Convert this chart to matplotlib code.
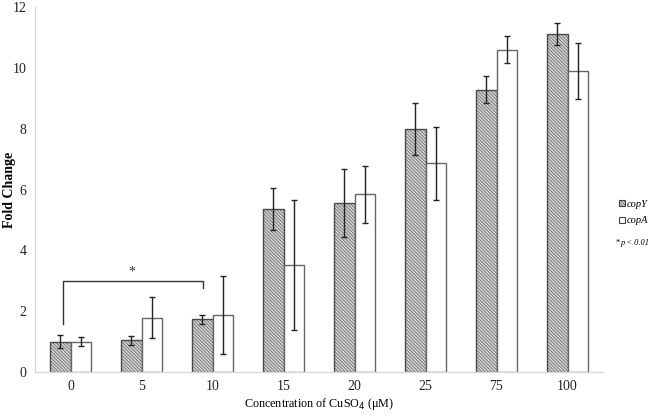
import matplotlib
matplotlib.use("Agg")
import matplotlib.pyplot as plt
import matplotlib.patches as mpatches
import numpy as np

plt.rcParams['font.family'] = ['Liberation Serif', 'DejaVu Serif']
plt.rcParams['hatch.linewidth'] = 0.4

categories = ["0", "5", "10", "15", "20", "25", "75", "100"]
copY = [1.0, 1.05, 1.73, 5.37, 5.55, 7.98, 9.28, 11.12]
copY_err = [0.22, 0.15, 0.14, 0.69, 1.12, 0.85, 0.45, 0.37]
copA = [1.0, 1.79, 1.86, 3.52, 5.84, 6.87, 10.6, 9.88]
copA_err = [0.16, 0.67, 1.28, 2.13, 0.94, 1.2, 0.45, 0.92]
series_names = ["copY", "copA"]
yticks = [0, 2, 4, 6, 8, 10, 12]

fig = plt.figure(figsize=(6.5, 4.19), dpi=100)
ax = fig.add_axes([35/650, 47/419, 568/650, 365/419])

x = np.arange(len(categories))
w = 0.295
hatch = '\\' * 10
ax.bar(x - w/2, copY, width=w, facecolor='#d0d0d0', edgecolor='#4a4a4a',
       hatch=hatch, linewidth=1.0, zorder=2)
ax.bar(x + w/2, copA, width=w, facecolor='white', edgecolor='#666666',
       linewidth=1.0, zorder=2)
ax.errorbar(x - w/2, copY, yerr=copY_err, fmt='none', ecolor='#222222',
            elinewidth=1.0, capsize=2.5, capthick=1.0, zorder=3)
ax.errorbar(x + w/2, copA, yerr=copA_err, fmt='none', ecolor='#222222',
            elinewidth=1.0, capsize=2.5, capthick=1.0, zorder=3)

# significance bracket
ax.plot([-0.11, -0.11, 1.86, 1.86], [1.58, 3.0, 3.0, 2.77], color='#333333', lw=1.0, zorder=3)
ax.text(0.86, 3.3, '*', ha='center', va='center', fontsize=10, color='#333333')

ax.set_xlim(-0.5, 7.5)
ax.set_ylim(0, 12)
ax.set_xticks(x)
ax.set_xticklabels(categories)
ax.set_yticks(yticks)
ax.tick_params(length=0, labelsize=10, colors='#222222')
ax.tick_params(axis='x', pad=6)
ax.tick_params(axis='y', pad=6)
for s in ['top', 'right']:
    ax.spines[s].set_visible(False)
for s in ['left', 'bottom']:
    ax.spines[s].set_color('#d9d9d9')
    ax.spines[s].set_linewidth(1.0)

ax.set_ylabel('Fold Change', fontweight='bold', fontsize=10)
ax.yaxis.set_label_coords((10 - 35) / 568, 0.5)
ax.yaxis.label.set_va('center')
ax.set_xlabel('Concentration of CuSO$_4$ (\u03bcM)', fontsize=8.7)
ax.xaxis.set_label_coords(0.5, -(404 - 372) / 365)
ax.xaxis.label.set_va('center')

handles = [mpatches.Patch(facecolor='#d0d0d0', edgecolor='#444444', hatch=hatch, lw=0.8),
           mpatches.Patch(facecolor='white', edgecolor='#444444', lw=0.8)]
leg = fig.legend(handles, series_names, loc='center left', bbox_to_anchor=(614/650, 0.493),
                 frameon=False, handlelength=0.55, handleheight=0.55, handletextpad=0.2,
                 labelspacing=0.75, prop={'style': 'italic', 'size': 7.5}, borderpad=0)
fig.text(616/650, (419-243)/419, '*', fontsize=6, va='center', ha='left')
fig.text(620/650, (419-243)/419, 'p < 0.01', fontsize=6, style='italic', va='center', ha='left')

fig.savefig('out.png', dpi=100)
